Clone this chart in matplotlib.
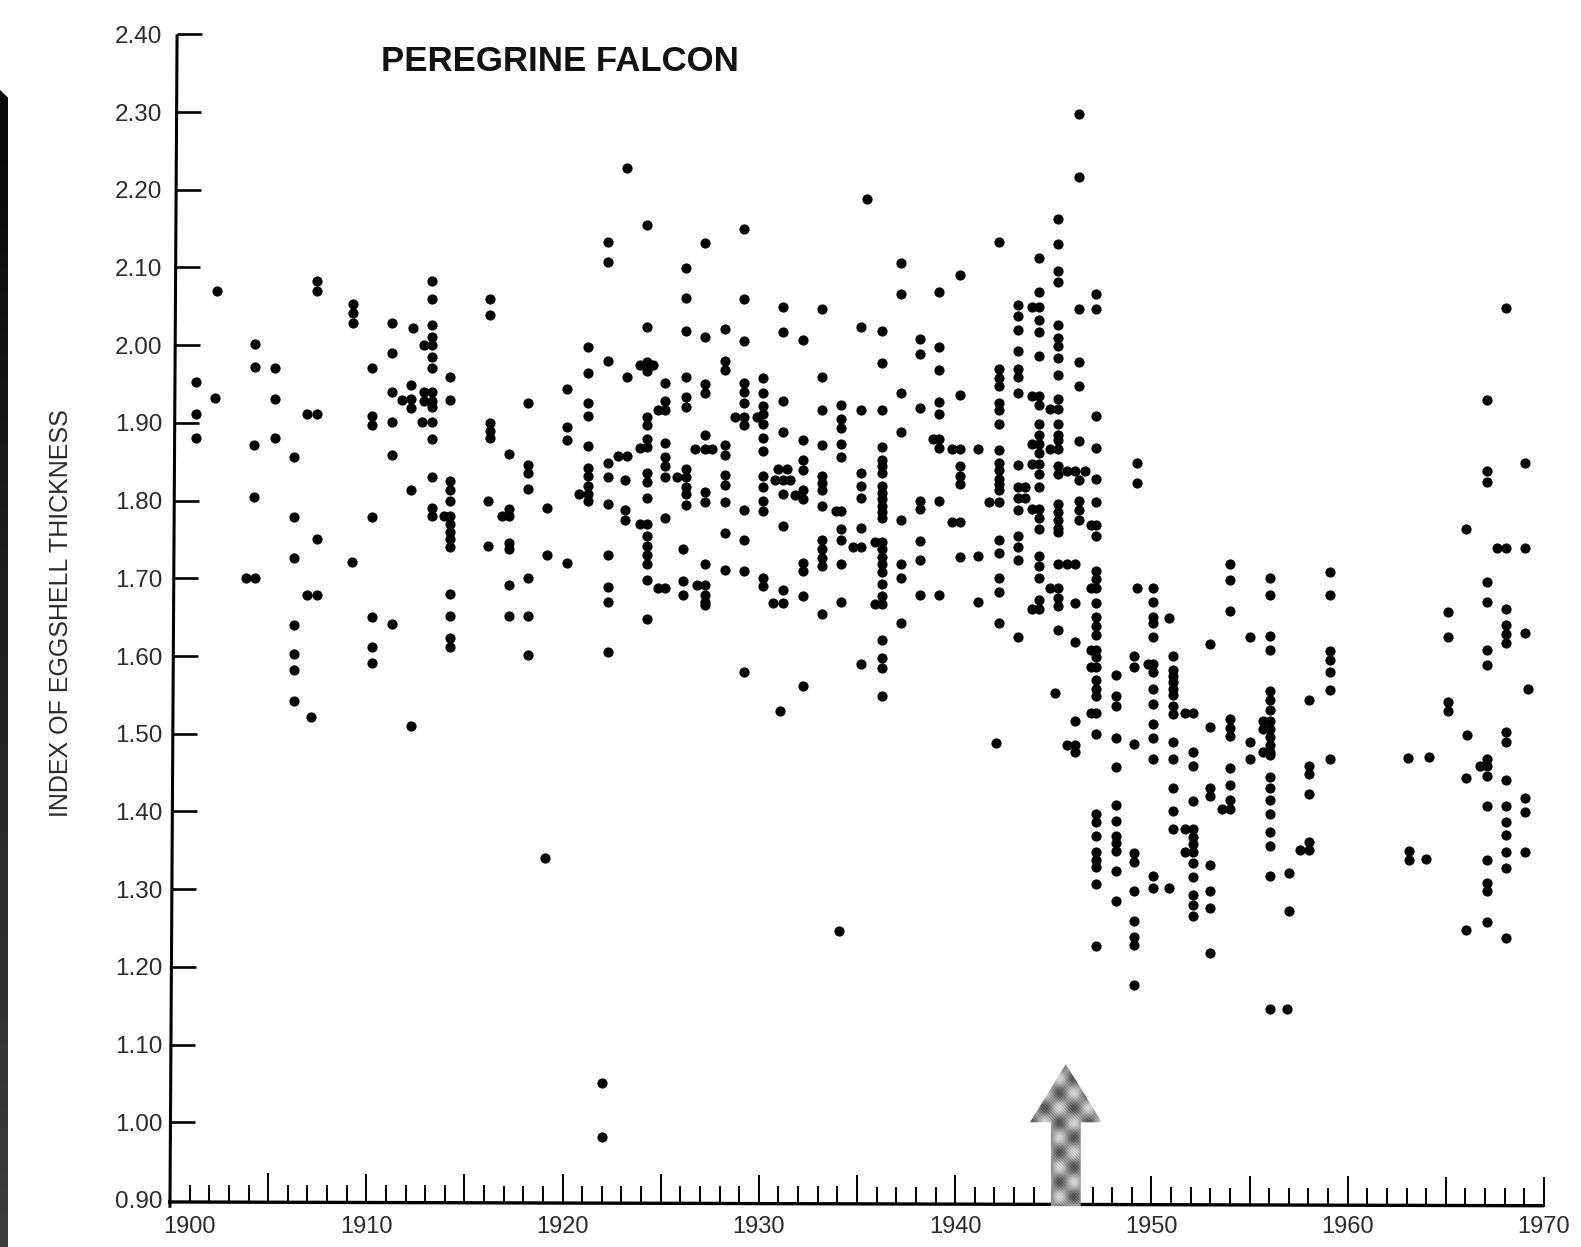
import matplotlib
matplotlib.use('Agg')
import matplotlib.pyplot as plt
from matplotlib.patches import Polygon
import numpy as np

# values: (year position, [index values]) per column of dots
dots_1900s = [
    (1901.32, [1.952, 1.911, 1.881]),
    (1902.28, [1.932]), (1902.41, [2.070]),
    (1903.89, [1.701]), (1904.35, [1.701, 2.002, 1.972]), (1904.26, [1.872, 1.804]),
    (1905.35, [1.970, 1.931, 1.881]),
    (1906.30, [1.856, 1.779, 1.726, 1.640, 1.602, 1.582, 1.542]),
    (1907.00, [1.912, 1.679]), (1907.47, [1.912, 2.082, 2.070, 1.751, 1.679]), (1907.20, [1.522]),
    (1909.32, [2.053, 2.042, 2.028]), (1909.25, [1.721]),
]
dots_1910s = [
    (1910.30, [1.970, 1.909, 1.897, 1.779, 1.650, 1.611, 1.591]),
    (1911.30, [2.029, 1.990, 1.940, 1.901, 1.859, 1.641]),
    (1911.84, [1.930]), (1912.40, [2.022]), (1912.82, [1.901]),
    (1912.28, [1.949, 1.931, 1.919, 1.814, 1.510]),
    (1912.94, [2.000, 1.940, 1.928]),
    (1913.33, [2.083, 2.059, 2.026, 2.010, 2.000, 1.985, 1.970, 1.940, 1.928, 1.920, 1.901, 1.879, 1.830, 1.791, 1.780]),
    (1913.96, [1.780]),
    (1914.28, [1.959, 1.929, 1.825, 1.814, 1.800, 1.780, 1.770, 1.760, 1.750, 1.740, 1.680, 1.651, 1.623, 1.611]),
    (1916.30, [2.060, 2.039, 1.900, 1.890, 1.880]), (1916.20, [1.799, 1.741]),
    (1916.90, [1.780]),
    (1917.27, [1.860, 1.789, 1.780, 1.746, 1.738, 1.691, 1.651]),
    (1918.25, [1.925, 1.846, 1.835, 1.815, 1.701, 1.651, 1.601]),
    (1919.20, [1.790, 1.730]), (1919.13, [1.340]),
]
dots_1920s = [
    (1920.25, [1.944, 1.895, 1.878, 1.720]), (1920.83, [1.808]),
    (1921.30, [1.998, 1.964, 1.926, 1.909, 1.870, 1.842, 1.831, 1.819, 1.809, 1.800]),
    (1922.30, [2.133, 2.107, 1.979, 1.849, 1.830, 1.796, 1.730, 1.689, 1.670, 1.605]),
    (1922.00, [1.051, 0.981]),
    (1922.84, [1.857]), (1923.26, [1.857, 1.959]), (1923.30, [2.228]),
    (1923.18, [1.826, 1.788, 1.775]),
    (1923.94, [1.975, 1.868, 1.770]), (1924.62, [1.975]),
    (1924.28, [2.155, 2.024, 1.978, 1.967, 1.908, 1.897, 1.879, 1.869, 1.835, 1.824, 1.803, 1.770, 1.754, 1.741, 1.730, 1.719, 1.698, 1.647]),
    (1924.88, [1.916, 1.688]),
    (1925.20, [1.951, 1.928, 1.917, 1.874, 1.856, 1.845, 1.830, 1.777, 1.688]),
    (1925.84, [1.830]),
    (1926.30, [2.099, 2.061, 2.018, 1.959, 1.933, 1.921, 1.841, 1.830, 1.818, 1.808, 1.794]),
    (1926.15, [1.738, 1.697, 1.679]),
    (1926.74, [1.867]), (1926.83, [1.691]),
    (1927.25, [2.131, 2.011, 1.950, 1.938, 1.884, 1.867, 1.811, 1.798, 1.719, 1.691, 1.679, 1.669, 1.665]),
    (1927.60, [1.867]),
    (1928.27, [2.021, 1.979, 1.968, 1.871, 1.859, 1.833, 1.820, 1.798, 1.758, 1.711]),
    (1928.78, [1.908]),
    (1929.24, [2.149, 2.059, 2.005, 1.951, 1.940, 1.926, 1.908, 1.897, 1.788, 1.749, 1.709, 1.579]),
]
dots_1930s = [
    (1929.90, [1.908]),
    (1930.20, [1.958, 1.938, 1.922, 1.911, 1.898, 1.881, 1.864, 1.832, 1.817, 1.800, 1.787, 1.700, 1.690]),
    (1930.82, [1.827]), (1930.99, [1.841]), (1930.70, [1.668]), (1931.07, [1.529]),
    (1931.25, [2.049, 2.017, 1.928, 1.888, 1.827, 1.808, 1.767, 1.685, 1.668]),
    (1931.45, [1.841]), (1931.60, [1.827]),
    (1931.84, [1.807]),
    (1932.25, [2.007, 1.878, 1.852, 1.839, 1.814, 1.802, 1.720, 1.710, 1.677, 1.561]),
    (1933.20, [2.047, 1.959, 1.916, 1.871, 1.832, 1.823, 1.813, 1.793, 1.749, 1.738, 1.726, 1.716, 1.654]),
    (1934.08, [1.246]), (1933.95, [1.787]),
    (1934.20, [1.923, 1.905, 1.893, 1.873, 1.856, 1.787, 1.763, 1.749, 1.718, 1.670]),
    (1934.80, [1.740]), (1935.52, [2.188]),
    (1935.20, [2.023, 1.917, 1.836, 1.819, 1.803, 1.765, 1.740, 1.590]),
    (1935.90, [1.747, 1.667]),
    (1936.25, [2.018, 1.977, 1.916, 1.869, 1.852, 1.844, 1.835, 1.819, 1.810, 1.802, 1.793, 1.785, 1.777, 1.747, 1.738, 1.728, 1.718, 1.708, 1.693, 1.677, 1.667, 1.620, 1.598, 1.584, 1.549]),
    (1937.25, [2.106, 2.066, 1.939, 1.888, 1.775, 1.719, 1.700, 1.643]),
    (1938.20, [2.008, 1.988, 1.919, 1.800, 1.789, 1.748, 1.724, 1.678]),
    (1938.85, [1.879]),
    (1939.20, [2.069, 1.998, 1.968, 1.927, 1.911, 1.879, 1.868, 1.799, 1.679]),
]
dots_1940s = [
    (1940.24, [2.090, 1.936, 1.867, 1.844, 1.831, 1.821, 1.772, 1.728]),
    (1939.85, [1.867, 1.772]),
    (1941.18, [1.867, 1.729, 1.669]),
    (1941.75, [1.798]),
    (1942.23, [2.133, 1.969, 1.958, 1.947, 1.926, 1.916, 1.899, 1.865, 1.849, 1.839, 1.828, 1.821, 1.813, 1.798, 1.749, 1.733, 1.700, 1.683, 1.642]),
    (1942.08, [1.488]),
    (1943.20, [2.052, 2.037, 2.020, 1.992, 1.969, 1.959, 1.939, 1.846, 1.817, 1.803, 1.788, 1.754, 1.740, 1.724, 1.625]),
    (1943.55, [1.817, 1.803]),
    (1943.90, [2.049, 1.935, 1.873, 1.847, 1.789, 1.661]),
    (1944.25, [2.112, 2.069, 2.049, 2.033, 2.017, 1.986, 1.935, 1.923, 1.899, 1.885, 1.873, 1.861, 1.847, 1.834, 1.817, 1.789, 1.777, 1.763, 1.729, 1.716, 1.700, 1.672, 1.661]),
    (1944.83, [1.918, 1.867, 1.688]),
    (1945.08, [1.553]),
    (1945.25, [2.162, 2.130, 2.095, 2.081, 2.026, 2.009, 1.999, 1.983, 1.962, 1.931, 1.918, 1.899, 1.884, 1.878, 1.867, 1.845, 1.834, 1.796, 1.785, 1.775, 1.765, 1.759, 1.718, 1.688, 1.675, 1.664, 1.634]),
    (1945.68, [1.838, 1.718, 1.486]),
    (1946.10, [1.838, 1.718, 1.668, 1.618, 1.517, 1.486, 1.476]),
    (1946.32, [2.297, 2.217, 2.047, 1.978, 1.948, 1.877, 1.826, 1.800, 1.788, 1.775]),
    (1946.60, [1.838]),
    (1946.90, [1.768, 1.688, 1.608, 1.586, 1.527]),
    (1947.20, [2.066, 2.047, 1.909, 1.868, 1.828, 1.798, 1.768, 1.755, 1.710, 1.699, 1.688, 1.668, 1.650, 1.639, 1.627, 1.608, 1.599, 1.586, 1.569, 1.558, 1.548, 1.527, 1.499, 1.397, 1.387, 1.368, 1.348, 1.338, 1.328, 1.307, 1.227]),
    (1948.20, [1.575, 1.548, 1.536, 1.494, 1.457, 1.408, 1.388, 1.368, 1.359, 1.349, 1.323, 1.285]),
    (1949.10, [1.600, 1.586, 1.487, 1.346, 1.335, 1.297, 1.259, 1.239, 1.228, 1.177]),
    (1949.25, [1.848, 1.822, 1.688]),
]
dots_1950s = [
    (1949.85, [1.590]),
    (1950.10, [1.688, 1.669, 1.650, 1.642, 1.624, 1.590, 1.580, 1.558, 1.538, 1.512, 1.494, 1.467, 1.317, 1.301]),
    (1950.90, [1.649, 1.301]),
    (1951.10, [1.600, 1.582, 1.574, 1.567, 1.558, 1.550, 1.536, 1.525, 1.489, 1.467, 1.430, 1.400, 1.377]),
    (1951.70, [1.527, 1.377, 1.348]),
    (1952.10, [1.527, 1.476, 1.458, 1.413, 1.377, 1.367, 1.358, 1.348, 1.334, 1.316, 1.293, 1.279, 1.265]),
    (1953.00, [1.615, 1.509, 1.430, 1.420, 1.331, 1.297, 1.276, 1.218]),
    (1954.00, [1.719, 1.698, 1.658, 1.519, 1.507, 1.497, 1.456, 1.434, 1.415, 1.403]),
    (1953.62, [1.403]),
    (1955.00, [1.625, 1.489, 1.468]),
    (1955.70, [1.516, 1.506, 1.477]),
    (1956.05, [1.701, 1.678, 1.626, 1.608, 1.555, 1.544, 1.531, 1.516, 1.506, 1.496, 1.485, 1.477, 1.472, 1.444, 1.430, 1.415, 1.397, 1.374, 1.355, 1.317, 1.146]),
    (1956.90, [1.146]),
    (1957.03, [1.321, 1.272]),
    (1957.57, [1.350]),
    (1958.05, [1.543, 1.458, 1.448, 1.423, 1.361, 1.350]),
    (1959.10, [1.708, 1.678, 1.606, 1.595, 1.579, 1.556, 1.468]),
]
dots_1960s = [
    (1963.05, [1.469]), (1963.12, [1.349, 1.337]), (1964.14, [1.470]), (1963.98, [1.339]),
    (1965.09, [1.656, 1.625, 1.541, 1.529]),
    (1966.02, [1.764, 1.443, 1.247]), (1966.09, [1.498]),
    (1966.74, [1.458]),
    (1967.10, [1.929, 1.838, 1.824, 1.695, 1.670, 1.608, 1.588, 1.468, 1.458, 1.446, 1.407, 1.337, 1.308, 1.298, 1.258]),
    (1967.62, [1.739]),
    (1968.05, [2.048, 1.739, 1.660, 1.640, 1.628, 1.617, 1.502, 1.489, 1.440, 1.407, 1.387, 1.370, 1.348, 1.327, 1.237]),
    (1969.05, [1.848, 1.739, 1.630, 1.417, 1.399, 1.348]),
    (1969.20, [1.558]),
]

x_years = [1900, 1910, 1920, 1930, 1940, 1950, 1960, 1970]
x_labels = ['1900', '1910', '1920', '1930', '1940', '1950', '1960', '1970']
y_ticks = [0.9, 1.0, 1.1, 1.2, 1.3, 1.4, 1.5, 1.6, 1.7, 1.8, 1.9, 2.0, 2.1, 2.2, 2.3, 2.4]
y_labels = ['0.90', '1.00', '1.10', '1.20', '1.30', '1.40', '1.50', '1.60',
            '1.70', '1.80', '1.90', '2.00', '2.10', '2.20', '2.30', '2.40']

W, H = 1581, 1247
plt.rcParams['font.family'] = ['Liberation Sans', 'DejaVu Sans']
ink = '#2b2b2b'

fig = plt.figure(figsize=(W / 100, H / 100), dpi=100, facecolor='white')
ax = fig.add_axes([170 / W, 1 - 1200 / H, 1374 / W, (1200 - 34.3) / H])
for s in ax.spines.values():
    s.set_visible(False)
ax.patch.set_alpha(0)

# the scan sits slightly rotated, so the axis lines lean a little
def spine_x(v):
    return 1900 + 0.36 * (v - 0.9) / 1.5

def base_y(yr):
    return 0.8975 - 0.00007 * (yr - 1900)

for decade in [dots_1900s, dots_1910s, dots_1920s, dots_1930s, dots_1940s, dots_1950s, dots_1960s]:
    for yr, vals in decade:
        ax.scatter([yr] * len(vals), vals, s=54, color='black', linewidths=0, zorder=3, clip_on=False)

ax.plot([spine_x(2.4), spine_x(0.89)], [2.4, 0.89], color='black', lw=2.2, clip_on=False, solid_capstyle='butt')
ax.plot([1899.9, 1970], [base_y(1900), base_y(1970)], color='black', lw=2.4, clip_on=False, solid_capstyle='butt')

for v in y_ticks[1:]:
    ax.plot([spine_x(v), spine_x(v) + 1.25], [v, v], color='black', lw=1.9, clip_on=False, solid_capstyle='butt')

for yr in range(1901, 1971):
    tall = yr % 5 == 0
    h = 0.036 if tall else 0.021
    ax.plot([yr, yr], [base_y(yr), base_y(yr) + h], color='black', lw=1.4, clip_on=False)

# arrow marking the mid 1940s, filled with the plaid screen of the print
arrow = Polygon([(1945.64, 1.075), (1947.47, 1.0), (1946.40, 1.0), (1946.40, 0.892),
                 (1944.88, 0.892), (1944.88, 1.0), (1943.81, 1.0)],
                closed=True, facecolor='none', edgecolor='none', zorder=4, clip_on=False,
                transform=ax.transData)
ax.add_patch(arrow)
px, py = np.meshgrid(np.arange(72), np.arange(140))
a = 2 * np.pi * (px + py) / 29
b = 2 * np.pi * (px - py) / 29
screen = 0.58 - 0.13 * (np.cos(a) + np.cos(b)) + 0.06 * np.sin(2 * np.pi * (px - py) / 3)
im = ax.imshow(screen, cmap='gray', vmin=0, vmax=1, extent=(1943.81, 1947.47, 0.892, 1.075),
               aspect='auto', zorder=4, interpolation='bilinear')
im.set_clip_box(fig.bbox)
im.set_clip_path(arrow)

ax.set_xlim(1900, 1970)
ax.set_ylim(0.9, 2.4)
ax.set_yticks(y_ticks)
ax.set_yticklabels(y_labels, fontsize=17.5, color=ink)
ax.set_xticks([])
ax.tick_params(axis='y', length=0, pad=5.5)

# the 1900 label is moved clear of the axis corner, the rest sit on their ticks
for yr, lab in zip(x_years, x_labels):
    shift = 1.0 if yr == 1900 else 0.0
    ax.text(yr + shift, 0.8655, lab, fontsize=17, color=ink, ha='center', va='center', clip_on=False)

ax.text(1910.75, 2.3655, 'PEREGRINE FALCON', fontsize=25, fontweight='bold', color='#111111', ha='left', va='center')
ax.set_ylabel('INDEX OF EGGSHELL THICKNESS', fontsize=18, color=ink)
ax.yaxis.set_label_coords((73 - 170) / 1374, 1 - (613 - 34.3) / (1200 - 34.3))

# dark edge of the scanned page, darkest at the top
edge_ax = fig.add_axes([0, 0, 8 / W, 1 - 90 / H])
edge_ax.axis('off')
edge_img = edge_ax.imshow(np.linspace(0.03, 0.24, 200).reshape(-1, 1), cmap='gray', vmin=0, vmax=1,
                          extent=(0, 1, 0, 1), aspect='auto')
edge_clip = Polygon([(0, 1), (1, 0.9935), (1, 0), (0, 0)], closed=True, transform=edge_ax.transData,
                    facecolor='none', edgecolor='none')
edge_ax.add_patch(edge_clip)
edge_img.set_clip_path(edge_clip)

fig.savefig('out.png', dpi=100)
